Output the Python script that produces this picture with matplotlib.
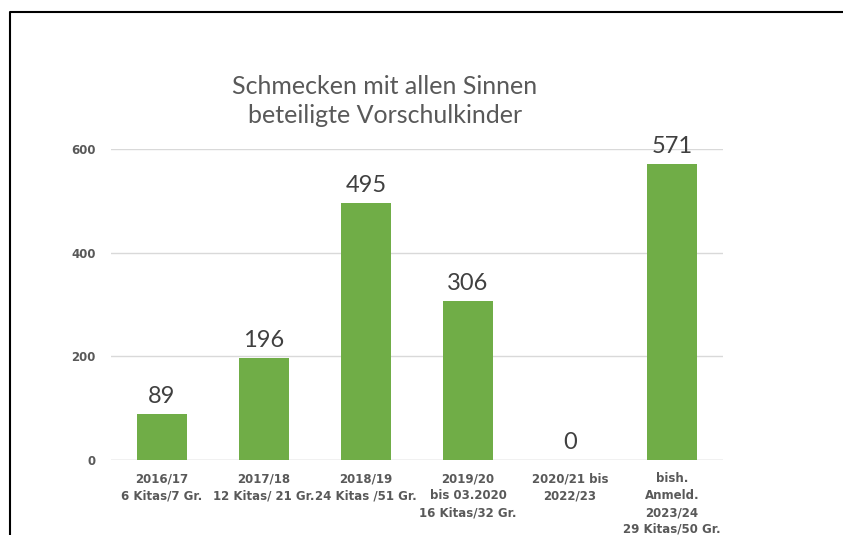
import matplotlib
matplotlib.use("Agg")
import matplotlib.pyplot as plt

# data
categories = [
    "2016/17\n6 Kitas/7 Gr.",
    "2017/18\n12 Kitas/ 21 Gr.",
    "2018/19\n24 Kitas /51 Gr.",
    "2019/20\nbis 03.2020\n16 Kitas/32 Gr.",
    "2020/21 bis\n2022/23",
    "bish.\nAnmeld.\n2023/24\n29 Kitas/50 Gr.",
]
values = [89, 196, 495, 306, 0, 571]
yticks = [0, 200, 400, 600]

plt.rcParams['font.family'] = ['Lato', 'DejaVu Sans']

fig = plt.figure(figsize=(8.43, 5.35), dpi=100)
ax = fig.add_axes([0.1317, 0.1402, 0.7260, 0.5813])

x = range(len(categories))
bars = ax.bar(x, values, width=0.49, color='#70AD47', zorder=3)

# value labels above bars
for xi, v in zip(x, values):
    ax.annotate(str(v), (xi, v), xytext=(0, 5), textcoords='offset points',
                ha='center', va='bottom', fontsize=17, color='#404040',
                clip_on=False)

ax.set_xlim(-0.5, len(categories) - 0.5)
ax.set_ylim(0, 600)
ax.set_yticks(yticks)
ax.set_xticks(list(x))
ax.set_xticklabels(categories, fontsize=8.5, fontweight='bold', color='#595959',
                   linespacing=1.38, family='DejaVu Sans')
for lbl in ax.get_yticklabels():
    lbl.set_fontsize(8.5)
    lbl.set_fontweight('bold')
    lbl.set_color('#595959')
    lbl.set_family('DejaVu Sans')

ax.grid(axis='y', color='#D9D9D9', linewidth=1, zorder=0)
ax.tick_params(length=0)
ax.tick_params(axis='x', pad=9)
ax.tick_params(axis='y', pad=11)
for s in ax.spines.values():
    s.set_visible(False)
ax.axhline(0, color='#D9D9D9', linewidth=1, zorder=2)

fig.text(385 / 843, 1 - 101 / 535, "Schmecken mit allen Sinnen\nbeteiligte Vorschulkinder",
         ha='center', va='center', fontsize=18, color='#595959', linespacing=1.3)

# outer frame (top and left edges)
fig.add_artist(plt.Line2D([10 / 843, 10 / 843, 1], [0, 1 - 12 / 535, 1 - 12 / 535],
                          transform=fig.transFigure, color='black', linewidth=1.5))

fig.savefig("out.png", dpi=100)
